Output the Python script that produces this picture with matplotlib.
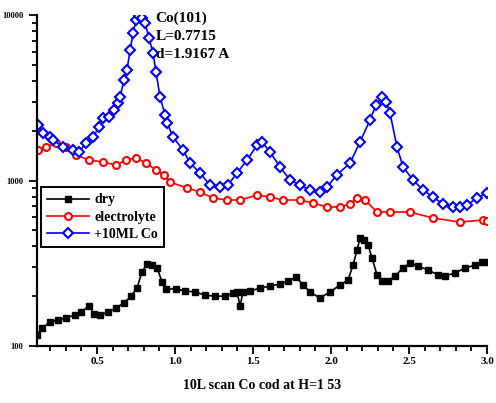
import matplotlib
matplotlib.use("Agg")
import matplotlib.pyplot as plt
from matplotlib.ticker import LogLocator, MultipleLocator, FixedLocator, FixedFormatter, NullFormatter

plt.rcParams['font.family'] = ['Liberation Serif', 'DejaVu Serif']
plt.rcParams['font.weight'] = 'bold'

# ---- data ----
dry_L = [0.115, 0.147, 0.199, 0.25, 0.301, 0.359, 0.397, 0.449, 0.481, 0.519, 0.571, 0.622, 0.673, 0.718,
         0.756, 0.788, 0.821, 0.853, 0.885, 0.917, 0.942, 1.006, 1.064, 1.128, 1.192, 1.256, 1.321, 1.372,
         1.397, 1.417, 1.436, 1.481, 1.545, 1.609, 1.673, 1.724, 1.776, 1.821, 1.865, 1.929, 1.994, 2.058,
         2.109, 2.141, 2.167, 2.186, 2.212, 2.237, 2.263, 2.295, 2.327, 2.365, 2.410, 2.462, 2.506, 2.558,
         2.622, 2.686, 2.731, 2.795, 2.859, 2.923, 2.968, 3.0]
dry_I = [117, 128, 140, 144, 148, 154, 160, 175, 156, 154, 160, 170, 182, 200,
         224, 280, 313, 308, 296, 244, 221, 221, 215, 212, 203, 200, 200, 209,
         212, 175, 212, 215, 224, 230, 237, 247, 261, 234, 212, 195, 212, 234,
         250, 308, 380, 449, 437, 408, 340, 269, 247, 247, 265, 296, 317, 304,
         288, 269, 265, 276, 296, 308, 322, 322]

elec_L = [0.122, 0.173, 0.237, 0.301, 0.365, 0.449, 0.538, 0.622, 0.686, 0.750, 0.814, 0.878, 0.929,
          0.968, 1.077, 1.160, 1.244, 1.333, 1.417, 1.526, 1.609, 1.692, 1.801, 1.885, 1.974, 2.058,
          2.122, 2.167, 2.218, 2.295, 2.378, 2.506, 2.654, 2.827, 2.974, 3.0]
elec_I = [1529, 1594, 1685, 1594, 1426, 1330, 1293, 1241, 1330, 1368, 1276, 1157, 1080,
          979, 901, 852, 784, 762, 762, 817, 795, 762, 762, 731, 692, 692,
          721, 784, 762, 645, 645, 645, 593, 561, 577, 569]

co_L = [0.122, 0.154, 0.199, 0.218, 0.282, 0.346, 0.385, 0.429, 0.474, 0.513, 0.538, 0.577, 0.609,
        0.635, 0.647, 0.673, 0.692, 0.712, 0.731, 0.750, 0.769, 0.788, 0.808, 0.833, 0.859, 0.878,
        0.904, 0.936, 0.949, 0.987, 1.051, 1.096, 1.160, 1.224, 1.288, 1.340, 1.397, 1.462, 1.526,
        1.558, 1.609, 1.673, 1.737, 1.801, 1.865, 1.929, 1.974, 2.038, 2.122, 2.186, 2.250, 2.288,
        2.327, 2.353, 2.378, 2.423, 2.462, 2.526, 2.590, 2.654, 2.718, 2.782, 2.827, 2.872, 2.936, 3.0]
co_I = [2164, 1936, 1832, 1757, 1594, 1529, 1487, 1685, 1832, 2105, 2386, 2419, 2667,
        2940, 3196, 4049, 4653, 6144, 7786, 9329, 9900, 9592, 8947, 7260, 5893, 4525,
        3196, 2487, 2225, 1832, 1529, 1276, 1110, 939, 914, 939, 1110, 1330, 1639,
        1709, 1487, 1207, 1007, 939, 876, 852, 914, 1080, 1276, 1709, 2321, 2859,
        3196, 2981, 2558, 1594, 1207, 1007, 876, 795, 721, 692, 692, 711, 784, 840]

y_ticks = [100, 1000, 10000]
y_tick_labels = ["100", "1000", "10000"]
x_major = [0.5, 1.0, 1.5, 2.0, 2.5, 3.0]
x_labels = ["0.5", "1.0", "1.5", "2.0", "2.5", "3.0"]
series_names = ["dry", "electrolyte", "+10ML Co"]
annotation = "Co(101)\nL=0.7715\nd=1.9167 A"
x_title = "10L scan Co cod at H=1 53"

fig = plt.figure(figsize=(4.96, 4.03), dpi=100)
ax = fig.add_axes([37/496, 57/403, 450/496, 331/403])

ax.plot(dry_L, dry_I, color='black', lw=1.2, marker='s', ms=4.6, mfc='black', mec='black',
        label=series_names[0])
ax.plot(elec_L, elec_I, color='red', lw=1.2, marker='o', ms=5, mfc='white', mec='red', mew=1.5,
        label=series_names[1])
ax.plot(co_L, co_I, color='blue', lw=1.2, marker='D', ms=5, mfc='white', mec='blue', mew=1.5,
        label=series_names[2])

ax.set_yscale('log')
ax.set_ylim(100, 10000)
ax.set_xlim(0.115, 3.0)

ax.yaxis.set_major_locator(FixedLocator(y_ticks))
ax.yaxis.set_major_formatter(FixedFormatter(y_tick_labels))
ax.yaxis.set_minor_locator(LogLocator(base=10, subs=range(2, 10)))
ax.yaxis.set_minor_formatter(NullFormatter())

ax.xaxis.set_major_locator(FixedLocator(x_major))
ax.xaxis.set_major_formatter(FixedFormatter(x_labels))
ax.xaxis.set_minor_locator(MultipleLocator(0.1))

for s in ['top', 'right']:
    ax.spines[s].set_visible(False)
for s in ['left', 'bottom']:
    ax.spines[s].set_linewidth(1.6)

ax.tick_params(axis='both', which='major', direction='out', length=6, width=1.3, labelsize=8)
ax.tick_params(axis='both', which='minor', direction='out', length=3.5, width=1.3)
ax.tick_params(axis='x', which='major', pad=2)
ax.tick_params(axis='y', which='major', pad=4, labelsize=6)

ax.text(0.2635, 1.01, annotation, transform=ax.transAxes, ha='left', va='top',
        fontsize=11, fontweight='bold', linespacing=1.5)

ax.set_xlabel(x_title, fontsize=10, fontweight='bold', labelpad=9)

leg = ax.legend(loc='upper left', bbox_to_anchor=(0.008, 0.48), fontsize=10, frameon=True,
                fancybox=False, edgecolor='black', handlelength=3.0, borderpad=0.45,
                labelspacing=0.3, handletextpad=0.4, borderaxespad=0)
leg.get_frame().set_linewidth(1.4)
leg.get_frame().set_alpha(1)

fig.savefig('out.png', dpi=100)
